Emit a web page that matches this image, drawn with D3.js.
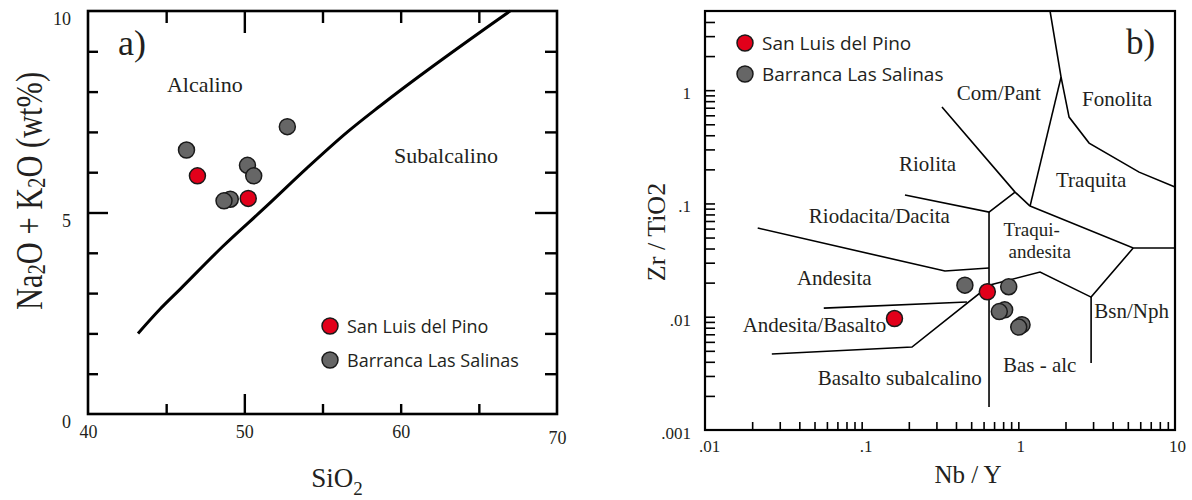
<!DOCTYPE html>
<html>
<head>
<meta charset="utf-8">
<script src="https://cdn.jsdelivr.net/npm/d3@7"></script>
<style>
  body { margin: 0; background: #fff; }
  svg text { font-family: "Liberation Serif", "Times New Roman", serif; fill: #231f20; }
  svg .legend text { font-family: "Open Sans", sans-serif; }
</style>
</head>
<body>
<div id="chart"></div>
<script>
// ---- panel a: TAS (SiO2 vs Na2O + K2O)
var sanLuisSiO2 = [47.0, 50.25];
var sanLuisAlk  = [5.91, 5.35];
var barrancaSiO2 = [46.3, 50.2, 50.6, 49.1, 48.7, 52.75];
var barrancaAlk  = [6.55, 6.17, 5.91, 5.33, 5.29, 7.13];
// alcaline / subalcaline divide
var divideSiO2 = [43.2, 44.6, 45.9, 48.6, 51.4, 54.0, 56.6, 58.7, 67.0];
var divideAlk  = [2.0, 2.6, 3.1, 4.15, 5.15, 6.1, 7.0, 7.65, 10.0];
var tasXLabels = [40, 50, 60, 70];
var tasYLabels = [0, 5, 10];
var tasFields = [
  {name: "Alcalino", x: 45.05, y: 7.99},
  {name: "Subalcalino", x: 59.58, y: 6.23}
];

// ---- panel b: Zr/TiO2 vs Nb/Y (Winchester & Floyd)
var sanLuisNbY  = [0.634, 0.162];
var sanLuisZrTi = [0.0166, 0.00964];
var barrancaNbY  = [0.456, 0.868, 0.818, 0.756, 1.056, 1.006];
var barrancaZrTi = [0.0190, 0.0184, 0.0115, 0.0111, 0.0085, 0.0081];
var wfBoundaries = [
  [[0.0217, 0.0607], [0.34, 0.0253], [0.65, 0.0269]],
  [[0.0573, 0.0119], [0.47, 0.0135]],
  [[0.0267, 0.00469], [0.2095, 0.0054], [0.659, 0.01905], [1.376, 0.0248], [2.914, 0.0149], [5.41, 0.0404]],
  [[2.914, 0.0149], [2.914, 0.0039]],
  [[1.188, 0.0948], [5.41, 0.0404], [10, 0.0404]],
  [[0.65, 0.0839], [0.65, 0.0016]],
  [[0.189, 0.1187], [0.65, 0.0839], [0.953, 0.126]],
  [[0.3255, 0.709], [0.953, 0.126], [1.188, 0.0948]],
  [[1.188, 0.0948], [1.874, 1.305]],
  [[1.594, 4.99], [1.874, 1.305], [2.108, 0.579], [2.83, 0.341], [5.90, 0.189], [10, 0.1396]]
];
var wfXLabels = [0.01, 0.1, 1, 10];
var wfXText = [".01", ".1", "1", "10"];
var wfYLabels = [0.001, 0.01, 0.1, 1];
var wfYText = [".001", ".01", ".1", "1"];
var wfFields = [
  {name: ["Com/Pant"], x: 0.405, y: 0.818},
  {name: ["Fonolita"], x: 2.55, y: 0.724},
  {name: ["Riolita"], x: 0.173, y: 0.193},
  {name: ["Traquita"], x: 1.74, y: 0.1396},
  {name: ["Riodacita/Dacita"], x: 0.046, y: 0.0671},
  {name: ["Traqui-", "andesita"], x: 0.805, y: 0.0515},
  {name: ["Andesita"], x: 0.0386, y: 0.01905},
  {name: ["Andesita/Basalto"], x: 0.0174, y: 0.00733},
  {name: ["Basalto subalcalino"], x: 0.0525, y: 0.00249},
  {name: ["Bas - alc"], x: 0.798, y: 0.00325},
  {name: ["Bsn/Nph"], x: 3.05, y: 0.00974}
];

var series = ["San Luis del Pino", "Barranca Las Salinas"];
var colors = ["#e2001a", "#666666"];

var width = 1192, height = 500;

var svg = d3.select("#chart")
    .append("svg")
    .attr("width", width)
    .attr("height", height);

// ================= panel a =================
var xA = d3.scaleLinear().domain([40, 70]).range([88, 557]);
var yA = d3.scaleLinear().domain([0, 10]).range([414, 11]);

var gA = svg.append("g");

function tickAxis(g, axis, tx, ty, sw) {
  var a = g.append("g").attr("transform", "translate(" + tx + "," + ty + ")").call(axis);
  a.select(".domain").remove();
  a.selectAll("line").attr("stroke", "#000").attr("stroke-width", sw);
  return a;
}

function labelAxis(g, axis, tx, ty, size) {
  var a = g.append("g").attr("transform", "translate(" + tx + "," + ty + ")").call(axis);
  a.select(".domain").remove();
  a.attr("font-family", "Liberation Serif").attr("font-size", size);
  a.selectAll("text").attr("fill", "#231f20");
  return a;
}

var xMinor = xA.ticks(6).filter(function(d) { return d > 40 && d < 70 && d != 50; });
var yMinor = yA.ticks(10).filter(function(d) { return d > 0 && d < 10 && d != 5; });

tickAxis(gA, d3.axisBottom(xA).tickValues(xMinor).tickSize(-10).tickFormat(""), 0, 414, 2.4);
tickAxis(gA, d3.axisBottom(xA).tickValues([50]).tickSize(-20).tickFormat(""), 0, 414, 2.4);
tickAxis(gA, d3.axisTop(xA).tickValues(xMinor).tickSize(-12).tickFormat(""), 0, 11, 2.4);
tickAxis(gA, d3.axisTop(xA).tickValues([50]).tickSize(-22).tickFormat(""), 0, 11, 2.4);
tickAxis(gA, d3.axisLeft(yA).tickValues(yMinor).tickSize(-10).tickFormat(""), 88, 0, 2.4);
tickAxis(gA, d3.axisLeft(yA).tickValues([5]).tickSize(-20).tickFormat(""), 88, 0, 2.4);
tickAxis(gA, d3.axisRight(yA).tickValues(yMinor).tickSize(-12).tickFormat(""), 557, 0, 2.4);
tickAxis(gA, d3.axisRight(yA).tickValues([5]).tickSize(-22).tickFormat(""), 557, 0, 2.4);

gA.append("rect")
    .attr("x", xA(40)).attr("y", yA(10))
    .attr("width", xA(70) - xA(40)).attr("height", yA(0) - yA(10))
    .attr("fill", "none").attr("stroke", "#000").attr("stroke-width", 2.6);

var xlA = labelAxis(gA, d3.axisBottom(xA).tickValues(tasXLabels).tickSize(0).tickPadding(11), 0, 414, 18);
xlA.selectAll("text").filter(function(d) { return d == 70; }).attr("transform", "translate(0,6)");

var ylA = labelAxis(gA, d3.axisLeft(yA).tickValues(tasYLabels).tickSize(0).tickPadding(17), 88, 0, 18);
ylA.selectAll("text").attr("transform", "translate(0,8)");

var divideLine = d3.line()
    .x(function(d, i) { return xA(divideSiO2[i]); })
    .y(function(d, i) { return yA(divideAlk[i]); })
    .curve(d3.curveMonotoneX);

gA.append("path")
    .attr("d", divideLine(divideSiO2))
    .attr("fill", "none").attr("stroke", "#000").attr("stroke-width", 3);

gA.selectAll(".field")
    .data(tasFields)
    .enter().append("text")
    .attr("x", function(d) { return xA(d.x); })
    .attr("y", function(d) { return yA(d.y); })
    .style("font-size", "22px")
    .text(function(d) { return d.name; });

gA.append("text").attr("x", 118).attr("y", 55).style("font-size", "36px").text("a)");

function dots(g, xs, ys, sx, sy, color) {
  g.selectAll(null)
    .data(xs)
    .enter().append("circle")
    .attr("cx", function(d) { return sx(d); })
    .attr("cy", function(d, i) { return sy(ys[i]); })
    .attr("r", 8)
    .attr("fill", color)
    .attr("stroke", "#1a1a1a")
    .attr("stroke-width", 1.5);
}

dots(gA, barrancaSiO2, barrancaAlk, xA, yA, colors[1]);
dots(gA, sanLuisSiO2, sanLuisAlk, xA, yA, colors[0]);

// axis titles
gA.append("text")
    .attr("transform", "translate(42,191) rotate(-90) scale(0.8,1)")
    .attr("text-anchor", "middle")
    .style("font-size", "38px")
    .html('Na<tspan font-size="26" dy="3">2</tspan><tspan dy="-3">O + K</tspan><tspan font-size="26" dy="3">2</tspan><tspan dy="-3">O (wt%)</tspan>');

gA.append("text")
    .attr("x", 337).attr("y", 487)
    .attr("text-anchor", "middle")
    .style("font-size", "27px")
    .html('SiO<tspan font-size="19" dy="8">2</tspan>');

function legend(g, x, y, gap, size) {
  var lg = g.append("g").attr("class", "legend");
  var item = lg.selectAll("g")
    .data(series)
    .enter().append("g")
    .attr("transform", function(d, i) { return "translate(" + x + "," + (y + i * gap) + ")"; });
  item.append("circle").attr("r", 8)
    .attr("fill", function(d, i) { return colors[i]; })
    .attr("stroke", "#1a1a1a").attr("stroke-width", 1.5);
  item.append("text").attr("x", 17).attr("y", 6.5)
    .style("font-size", size + "px")
    .style("fill", "#231f20")
    .text(function(d) { return d; });
}

legend(gA, 330, 326, 34, 18);

// ================= panel b =================
var xB = d3.scaleLog().domain([0.01, 10]).range([705, 1175]);
var yB = d3.scaleLog().domain([0.001, 5]).range([430, 11]);

var gB = svg.append("g");

var xbTicks = xB.ticks().filter(function(d) { return d > 0.0100001 && d < 9.99; });
var ybTicks = yB.ticks().filter(function(d) { return d > 0.0010001 && d < 4.99; });

tickAxis(gB, d3.axisBottom(xB).tickValues(xbTicks).tickSize(-8).tickFormat(""), 0, 430, 1.6);
tickAxis(gB, d3.axisLeft(yB).tickValues(ybTicks).tickSize(-10).tickFormat(""), 705, 0, 1.6);

gB.append("rect")
    .attr("x", xB(0.01)).attr("y", yB(5))
    .attr("width", xB(10) - xB(0.01)).attr("height", yB(0.001) - yB(5))
    .attr("fill", "none").attr("stroke", "#000").attr("stroke-width", 2.2);

var xlB = labelAxis(gB, d3.axisBottom(xB).tickValues(wfXLabels).tickSize(0).tickPadding(10)
      .tickFormat(function(d, i) { return wfXText[i]; }), 0, 430, 17);
xlB.selectAll("text").attr("dx", function(d, i) { return i < 2 ? 4 : 2; });

var ylB = labelAxis(gB, d3.axisLeft(yB).tickValues(wfYLabels).tickSize(0).tickPadding(14)
      .tickFormat(function(d, i) { return wfYText[i]; }), 705, 0, 17);
ylB.selectAll("text").attr("transform", "translate(0,3)");

var bLine = d3.line()
    .x(function(d) { return xB(d[0]); })
    .y(function(d) { return yB(d[1]); });

gB.selectAll(".bound")
    .data(wfBoundaries)
    .enter().append("path")
    .attr("d", bLine)
    .attr("fill", "none").attr("stroke", "#000").attr("stroke-width", 1.6)
    .attr("stroke-linejoin", "miter");

// two-line field names are set a bit smaller so the lines stay apart
var fieldText = gB.selectAll(".field")
    .data(wfFields)
    .enter().append("text")
    .attr("x", function(d) { return xB(d.x); })
    .attr("y", function(d) { return yB(d.y); })
    .style("font-size", function(d) { return d.name.length > 1 ? "19px" : "21px"; });

fieldText.selectAll("tspan")
    .data(function(d) { return d.name.map(function(n) { return {n: n, x: xB(d.x)}; }); })
    .enter().append("tspan")
    .attr("x", function(d, i) { return d.x + i * 5; })
    .attr("dy", function(d, i) { return i ? 22 : 0; })
    .text(function(d) { return d.n; });

dots(gB, barrancaNbY, barrancaZrTi, xB, yB, colors[1]);
dots(gB, sanLuisNbY, sanLuisZrTi, xB, yB, colors[0]);

gB.append("text").attr("x", 1126).attr("y", 54).style("font-size", "35px").text("b)");

gB.append("text")
    .attr("transform", "translate(665,232) rotate(-90)")
    .attr("text-anchor", "middle")
    .style("font-size", "26px")
    .text("Zr / TiO2");

gB.append("text")
    .attr("x", 968).attr("y", 483)
    .attr("text-anchor", "middle")
    .style("font-size", "25px")
    .text("Nb / Y");

legend(gB, 745, 43, 31, 19);
</script>
</body>
</html>
